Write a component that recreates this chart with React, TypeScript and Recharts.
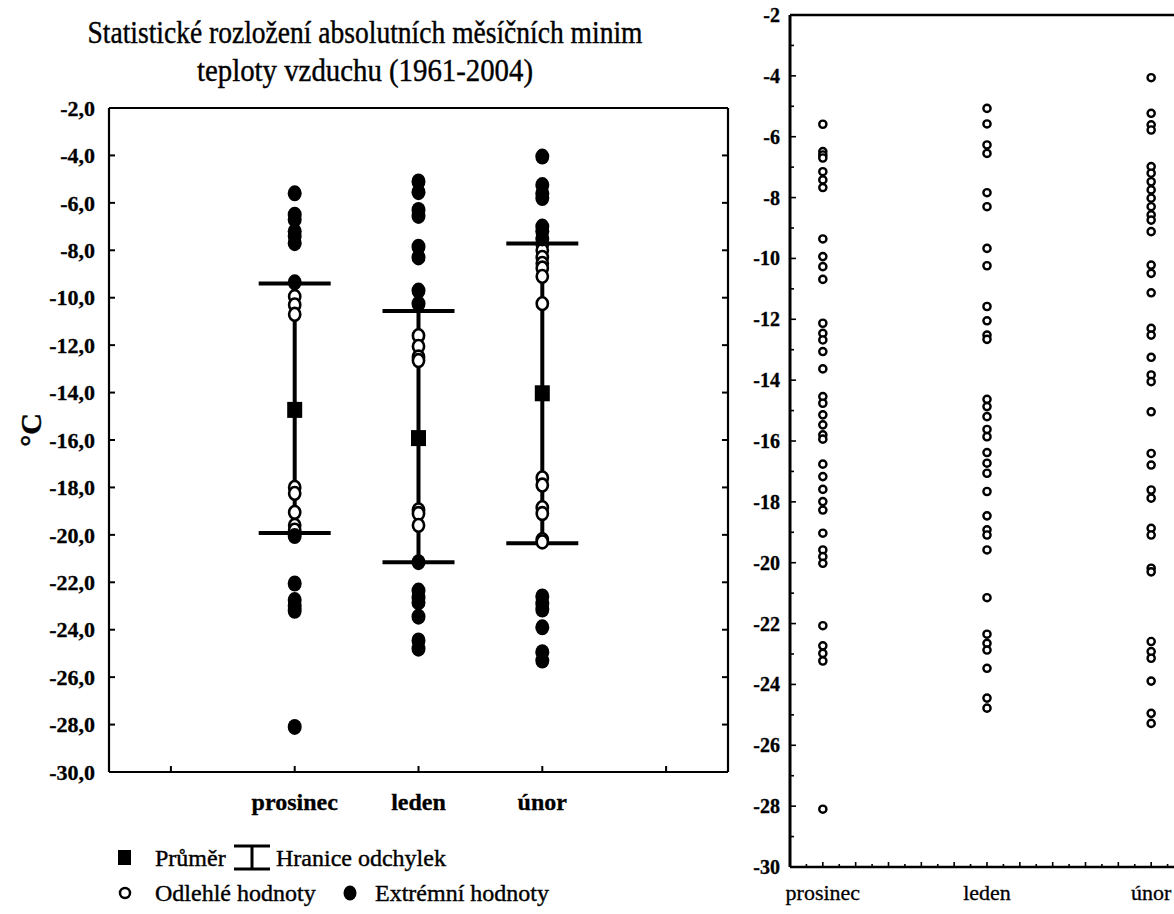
import React from 'react';
import { ComposedChart, ScatterChart, Scatter, XAxis, YAxis, ErrorBar } from 'recharts';

// kategorie (měsíce)
const months = ['prosinec', 'leden', 'únor'];
const leftPos = [2, 3, 4];
const rightPos = [1, 2, 3];

// průměr a hranice odchylek
const means = [-14.73, -15.92, -14.03];
const upperBounds = [-9.4, -10.56, -7.71];
const lowerBounds = [-19.92, -21.16, -20.35];

// levý graf: extrémní a odlehlé hodnoty
const decExtremes = [-5.6, -6.5, -6.7, -7.2, -7.4, -7.7, -9.35, -20.05, -22.05, -22.75, -23.0, -23.2, -28.1];
const decOutliers = [-9.95, -10.3, -10.7, -18.0, -18.25, -19.05, -19.6, -19.8];
const janExtremes = [-5.1, -5.55, -6.3, -6.55, -7.85, -8.3, -9.7, -10.25, -21.15, -22.35, -22.65, -22.85, -23.45, -24.45, -24.8];
const janOutliers = [-11.6, -12.05, -12.5, -12.65, -18.95, -19.1, -19.6];
const febExtremes = [-4.05, -5.25, -5.6, -5.8, -7.0, -7.2, -7.5, -22.6, -22.9, -23.15, -23.9, -24.95, -25.3];
const febOutliers = [-7.75, -8.0, -8.3, -8.55, -8.75, -9.1, -10.25, -17.6, -17.9, -18.85, -19.1, -20.2, -20.3];

// pravý graf: všechny hodnoty
const decAll = [-5.59, -6.49, -6.6, -6.7, -7.15, -7.42, -7.67, -9.36, -9.94, -10.27, -10.69, -12.13, -12.46, -12.68, -13.06, -13.63, -14.54, -14.76, -15.14, -15.47, -15.8, -15.94, -16.76, -17.17, -17.59, -17.99, -18.27, -19.03, -19.58, -19.8, -20.02, -22.07, -22.73, -22.98, -23.23, -28.1];
const janAll = [-5.07, -5.58, -6.27, -6.55, -7.84, -8.3, -9.67, -10.24, -11.58, -12.05, -12.52, -12.66, -14.63, -14.87, -15.2, -15.62, -15.86, -16.38, -16.73, -17.06, -17.66, -18.46, -18.92, -19.09, -19.58, -21.15, -22.35, -22.65, -22.87, -23.47, -24.45, -24.78];
const febAll = [-4.06, -5.23, -5.61, -5.78, -6.98, -7.2, -7.48, -7.75, -8.02, -8.3, -8.57, -8.74, -9.12, -10.22, -10.49, -11.13, -12.3, -12.52, -13.25, -13.83, -14.05, -15.04, -16.41, -16.79, -17.61, -17.88, -18.87, -19.09, -20.18, -20.3, -22.59, -22.92, -23.14, -23.89, -24.95, -25.28];

const leftYTicks = [-30, -28, -26, -24, -22, -20, -18, -16, -14, -12, -10, -8, -6, -4, -2];
const leftXTicks = [1, 2, 3, 4, 5];
const rightYTicks: number[] = [];
for (let v = -30; v <= -2; v++) rightYTicks.push(v);
const rightXTicks: number[] = [];
for (let i = 8; i <= 32; i++) rightXTicks.push(i / 10);

const FONT = '"Liberation Serif", "Times New Roman", serif';

const toPts = (x: number, ys: number[]) => ys.map((y) => ({ x, y }));
const extremesData = [
  ...toPts(leftPos[0], decExtremes),
  ...toPts(leftPos[1], janExtremes),
  ...toPts(leftPos[2], febExtremes),
];
const outliersData = [
  ...toPts(leftPos[0], decOutliers),
  ...toPts(leftPos[1], janOutliers),
  ...toPts(leftPos[2], febOutliers),
];
const meanData = months.map((m, i) => ({
  x: leftPos[i],
  y: means[i],
  err: [means[i] - lowerBounds[i], upperBounds[i] - means[i]],
}));
const allData = [
  ...toPts(rightPos[0], decAll),
  ...toPts(rightPos[1], janAll),
  ...toPts(rightPos[2], febAll),
];

const FilledDot = (p: any) => <ellipse cx={p.cx} cy={p.cy} rx={7} ry={8} fill="#000" />;
const OpenDot = (p: any) => (
  <ellipse cx={p.cx} cy={p.cy} rx={5.6} ry={6.4} fill="#fff" stroke="#000" strokeWidth={2.6} />
);
const MeanSquare = (p: any) => <rect x={p.cx - 7.5} y={p.cy - 8} width={15} height={16} fill="#000" />;
const SmallCircle = (p: any) => (
  <circle cx={p.cx} cy={p.cy} r={3.6} fill="#fff" stroke="#000" strokeWidth={2.4} />
);

const fmtComma = (v: number) => v.toFixed(1).replace('.', ',');

function LeftBottomTick({ x, y, payload }: any) {
  const idx = leftPos.indexOf(payload.value);
  return (
    <g>
      <line x1={x} x2={x} y1={y} y2={y - 6} stroke="#000" strokeWidth={2} />
      {idx >= 0 && (
        <text x={x} y={y + 38} textAnchor="middle" fontFamily={FONT} fontWeight="bold" fontSize={24} fill="#000" stroke="#000" strokeWidth={0.3}>
          {months[idx]}
        </text>
      )}
    </g>
  );
}
function LeftTopTick({ x, y }: any) {
  return <line x1={x} x2={x} y1={y} y2={y + 6} stroke="#000" strokeWidth={2} />;
}
function LeftYTick({ x, y, payload }: any) {
  return (
    <g>
      <line x1={x} x2={x + 6} y1={y} y2={y} stroke="#000" strokeWidth={2} />
      <text x={x - 14} y={y} dy="0.35em" textAnchor="end" fontFamily={FONT} fontWeight="bold" fontSize={22} fill="#000" stroke="#000" strokeWidth={0.3}>
        {fmtComma(payload.value)}
      </text>
    </g>
  );
}
function LeftRightTick({ x, y }: any) {
  return <line x1={x} x2={x - 6} y1={y} y2={y} stroke="#000" strokeWidth={2} />;
}

const isMajorX = (v: number) => Math.round(v * 10) % 2 === 0;
function RightBottomTick({ x, y, payload }: any) {
  const idx = rightPos.findIndex((p) => Math.abs(p - payload.value) < 1e-6);
  return (
    <g>
      <line x1={x} x2={x} y1={y} y2={y - (isMajorX(payload.value) ? 5 : 3)} stroke="#000" strokeWidth={1.6} />
      {idx >= 0 && (
        <text x={x} y={y + 33} textAnchor="middle" fontFamily={FONT} fontSize={22} fill="#000" stroke="#000" strokeWidth={0.3}>
          {months[idx]}
        </text>
      )}
    </g>
  );
}
function RightTopTick({ x, y, payload }: any) {
  return <line x1={x} x2={x} y1={y} y2={y + (isMajorX(payload.value) ? 5 : 3)} stroke="#000" strokeWidth={1.6} />;
}
function RightYTick({ x, y, payload }: any) {
  const major = payload.value % 2 === 0;
  return (
    <g>
      <line x1={x} x2={x + (major ? 6 : 4)} y1={y} y2={y} stroke="#000" strokeWidth={1.6} />
      {major && (
        <text x={x - 10} y={y} dy="0.35em" textAnchor="end" fontFamily={FONT} fontWeight="bold" fontSize={20} fill="#000" stroke="#000" strokeWidth={0.3}>
          {payload.value}
        </text>
      )}
    </g>
  );
}

export default function App() {
  return (
    <div
      style={{
        position: 'fixed',
        left: 0,
        top: 0,
        width: 1174,
        height: 914,
        overflow: 'hidden',
        background: '#fff',
        fontFamily: FONT,
      }}
    >
      {/* levý graf */}
      <div style={{ position: 'absolute', left: 0, top: 0 }}>
        <ComposedChart width={740} height={914} margin={{ top: 107, right: 11, bottom: 102, left: 29 }}>
          <XAxis
            xAxisId="b"
            type="number"
            dataKey="x"
            domain={[0.5, 5.5]}
            ticks={leftXTicks}
            interval={0}
            tickSize={0}
            tickMargin={0}
            height={40}
            axisLine={{ stroke: '#000', strokeWidth: 2.2 }}
            tick={<LeftBottomTick />}
            allowDataOverflow
          />
          <XAxis
            xAxisId="t"
            orientation="top"
            type="number"
            domain={[0.5, 5.5]}
            ticks={leftXTicks}
            interval={0}
            tickSize={0}
            tickMargin={0}
            height={1}
            axisLine={{ stroke: '#000', strokeWidth: 2.2 }}
            tick={<LeftTopTick />}
            allowDataOverflow
          />
          <YAxis
            yAxisId="l"
            type="number"
            dataKey="y"
            domain={[-30, -2]}
            ticks={leftYTicks}
            interval={0}
            tickSize={0}
            tickMargin={0}
            width={80}
            axisLine={{ stroke: '#000', strokeWidth: 2.2 }}
            tick={<LeftYTick />}
            allowDataOverflow
          />
          <YAxis
            yAxisId="r"
            orientation="right"
            type="number"
            domain={[-30, -2]}
            ticks={leftYTicks}
            interval={0}
            tickSize={0}
            tickMargin={0}
            width={1}
            axisLine={{ stroke: '#000', strokeWidth: 2.2 }}
            tick={<LeftRightTick />}
            allowDataOverflow
          />
          <Scatter
            xAxisId="b"
            yAxisId="l"
            data={meanData}
            dataKey="y"
            shape={MeanSquare}
            isAnimationActive={false}
          >
            <ErrorBar dataKey="err" direction="y" width={36} stroke="#000" strokeWidth={4} isAnimationActive={false} />
          </Scatter>
          <Scatter xAxisId="b" yAxisId="l" data={outliersData} dataKey="y" shape={OpenDot} isAnimationActive={false} />
          <Scatter xAxisId="b" yAxisId="l" data={extremesData} dataKey="y" shape={FilledDot} isAnimationActive={false} />
        </ComposedChart>
      </div>

      {/* pravý graf */}
      <div style={{ position: 'absolute', left: 740, top: 0 }}>
        <ScatterChart width={460} height={914} margin={{ top: 14, right: 15, bottom: 7, left: 2 }}>
          <XAxis
            xAxisId="b"
            type="number"
            dataKey="x"
            domain={[0.8, 3.2]}
            ticks={rightXTicks}
            interval={0}
            tickSize={0}
            tickMargin={0}
            height={40}
            axisLine={{ stroke: '#000', strokeWidth: 2.4 }}
            tick={<RightBottomTick />}
            allowDataOverflow
          />
          <XAxis
            xAxisId="t"
            orientation="top"
            type="number"
            domain={[0.8, 3.2]}
            ticks={rightXTicks}
            interval={0}
            tickSize={0}
            tickMargin={0}
            height={1}
            axisLine={{ stroke: '#000', strokeWidth: 2.4 }}
            tick={<RightTopTick />}
            allowDataOverflow
          />
          <YAxis
            yAxisId="l"
            type="number"
            dataKey="y"
            domain={[-30, -2]}
            ticks={rightYTicks}
            interval={0}
            tickSize={0}
            tickMargin={0}
            width={48}
            axisLine={{ stroke: '#000', strokeWidth: 3 }}
            tick={<RightYTick />}
            allowDataOverflow
          />
          <YAxis
            yAxisId="r"
            orientation="right"
            type="number"
            domain={[-30, -2]}
            ticks={rightYTicks}
            interval={0}
            tickSize={0}
            tickMargin={0}
            width={1}
            axisLine={{ stroke: '#000', strokeWidth: 2.4 }}
            tick={false}
            allowDataOverflow
          />
          <Scatter xAxisId="b" yAxisId="l" data={allData} dataKey="y" shape={SmallCircle} isAnimationActive={false} />
        </ScatterChart>
      </div>

      {/* nadpis, osa, legenda */}
      <svg
        width={740}
        height={914}
        style={{ position: 'absolute', left: 0, top: 0, pointerEvents: 'none' }}
        fontFamily={FONT}
        stroke="#000"
        strokeWidth={0.4}
      >
        <text x={365} y={43} textAnchor="middle" fontSize={31} textLength={555} lengthAdjust="spacingAndGlyphs">
          Statistické rozložení absolutních měsíčních minim
        </text>
        <text x={365} y={81} textAnchor="middle" fontSize={31} textLength={336} lengthAdjust="spacingAndGlyphs">
          teploty vzduchu (1961-2004)
        </text>
        <text x={30} y={430} transform="rotate(-90 30 430)" textAnchor="middle" dy="0.35em" fontSize={30} fontWeight="bold">
          °C
        </text>

        <rect x={118} y={850} width={13} height={15} fill="#000" strokeWidth={0} />
        <text x={155} y={866} fontSize={24}>Průměr</text>
        <line x1={234} x2={270} y1={846} y2={846} stroke="#000" strokeWidth={3} />
        <line x1={234} x2={270} y1={869} y2={869} stroke="#000" strokeWidth={3} />
        <line x1={252} x2={252} y1={846} y2={869} stroke="#000" strokeWidth={3} />
        <text x={276} y={866} fontSize={24}>Hranice odchylek</text>

        <circle cx={125} cy={893} r={5} fill="#fff" stroke="#000" strokeWidth={2.5} />
        <text x={155} y={901} fontSize={24}>Odlehlé hodnoty</text>
        <ellipse cx={350} cy={893} rx={6.5} ry={7.5} fill="#000" strokeWidth={0} />
        <text x={375} y={901} fontSize={24}>Extrémní hodnoty</text>
      </svg>
    </div>
  );
}
